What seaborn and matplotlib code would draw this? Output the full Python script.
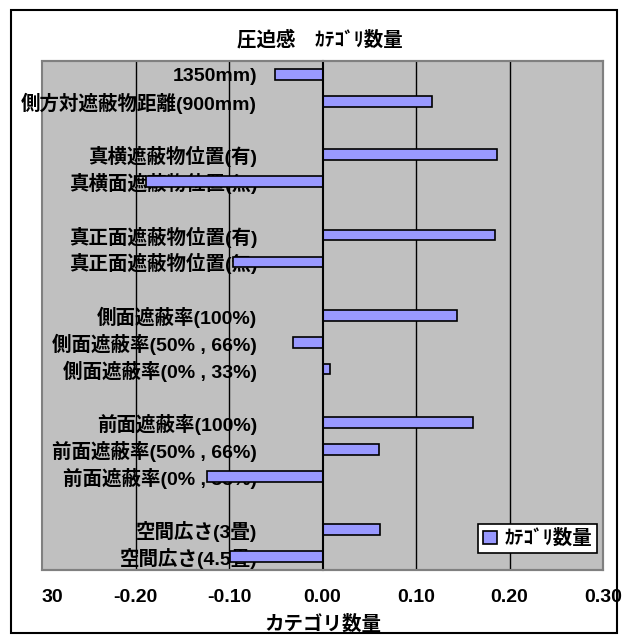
import numpy as np
import pandas as pd
import matplotlib
matplotlib.use("Agg")
import matplotlib.pyplot as plt
from matplotlib.patches import Rectangle
import seaborn as sns

# categories top to bottom, blank entries are the gaps between groups
order = ["1350mm)", "側方対遮蔽物距離(900mm)", " ",
         "真横遮蔽物位置(有)", "真横面遮蔽物位置(無)", "  ",
         "真正面遮蔽物位置(有)", "真正面遮蔽物位置(無)", "   ",
         "側面遮蔽率(100%)", "側面遮蔽率(50% , 66%)", "側面遮蔽率(0% , 33%)", "    ",
         "前面遮蔽率(100%)", "前面遮蔽率(50% , 66%)", "前面遮蔽率(0% , 33%)", "     ",
         "空間広さ(3畳)", "空間広さ(4.5畳)"]
categories = [c for c in order if c.strip()]
values = [-0.051, 0.117,
          0.187, -0.189,
          0.185, -0.096,
          0.144, -0.032, 0.008,
          0.161, 0.060, -0.123,
          0.061, -0.099]
xticks = [-0.3, -0.2, -0.1, 0.0, 0.1, 0.2, 0.3]
xtick_labels = ["30", "-0.20", "-0.10", "0.00", "0.10", "0.20", "0.30"]

sns.set_style("white")
plt.rcParams["font.family"] = ["Liberation Sans", "Noto Sans CJK JP", "DejaVu Sans"]
plt.rcParams["font.weight"] = "bold"
plt.rcParams["text.color"] = "black"
plt.rcParams["axes.labelcolor"] = "black"
plt.rcParams["xtick.color"] = "black"
plt.rcParams["ytick.color"] = "black"

df = pd.DataFrame({"cat": categories, "val": values})

fig = plt.figure(figsize=(6.27, 6.42), dpi=100)
ax = fig.add_axes([42 / 627, 1 - 570 / 642, 561 / 627, 509 / 642])
ax.set_facecolor("#C0C0C0")

sns.barplot(data=df, x="val", y="cat", order=order, orient="h", width=0.4,
            color="#9999FF", edgecolor="black", linewidth=1.2, saturation=1,
            label="ｶﾃｺﾞﾘ数量", ax=ax, zorder=2)

ax.set_xlim(xticks[0], xticks[-1])
for v in xticks[1:-1]:
    if v != 0:
        ax.axvline(v, color="black", lw=1, zorder=0.5)

ax.set_xticks(xticks)
ax.set_xticklabels(xtick_labels, fontsize=14, fontweight="bold")
ax.get_xticklabels()[0].set_ha("left")
ax.tick_params(axis="x", length=0, pad=14)

ax.spines["left"].set_position(("data", 0))
ax.spines["left"].set_color("black")
ax.spines["left"].set_linewidth(1.5)
for s in ["top", "right", "bottom"]:
    ax.spines[s].set_color("#808080")
    ax.spines[s].set_linewidth(1.5)
ax.patch.set_edgecolor("#808080")
ax.patch.set_linewidth(1.5)

ax.set_yticks(range(len(order)))
ax.set_yticklabels(order, fontsize=14, fontweight="bold")
ax.set_yticks(np.arange(len(order) + 1) - 0.5, minor=True)
ax.tick_params(axis="y", which="major", length=0, pad=47)
ax.tick_params(axis="y", which="minor", direction="in", length=6, width=1.2, color="black")
ax.set_ylabel("")
ax.set_xlabel("カテゴリ数量", fontsize=14, fontweight="bold", labelpad=6)

leg = ax.legend(loc="lower right", bbox_to_anchor=(1 - 6 / 561, 17 / 509),
                borderaxespad=0, fancybox=False, framealpha=1, edgecolor="black",
                prop={"size": 14, "weight": "bold"}, handlelength=0.7,
                handleheight=0.7, handletextpad=0.4, borderpad=0.25)
leg.get_frame().set_linewidth(1.2)

fig.text(320 / 627, 1 - 40 / 642, "圧迫感　ｶﾃｺﾞﾘ数量", ha="center", va="center",
         fontsize=14, fontweight="bold")
fig.patches.append(Rectangle((11 / 627, 1 - 633 / 642), 606 / 627, 623 / 642,
                             transform=fig.transFigure, fill=False,
                             edgecolor="black", lw=1.5))

fig.savefig("out.png", dpi=100, facecolor="white")
